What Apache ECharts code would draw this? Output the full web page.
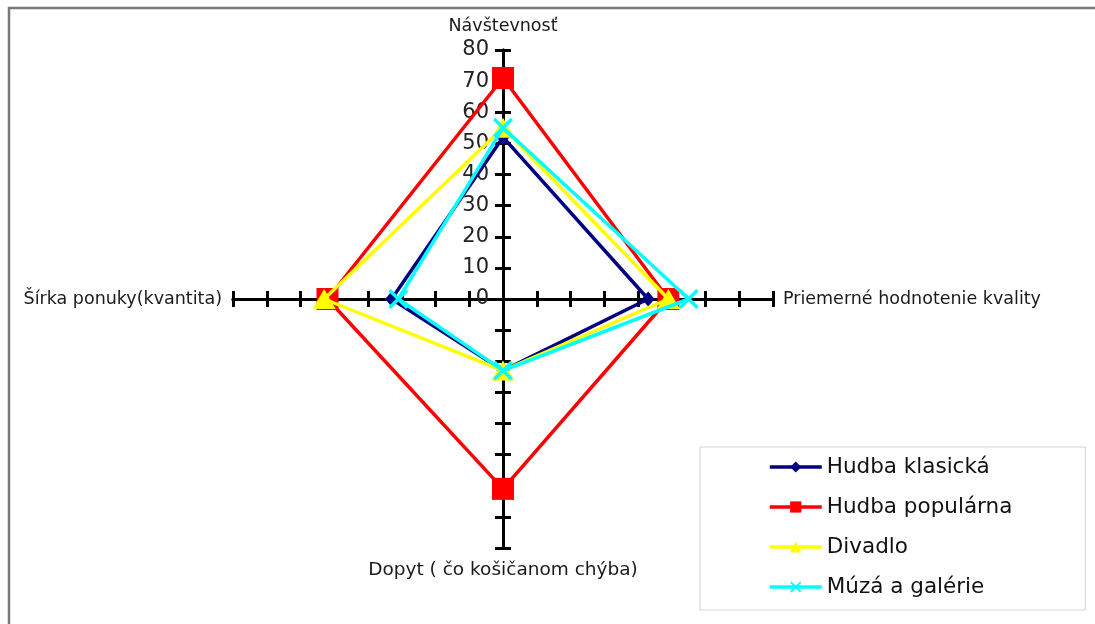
<!DOCTYPE html>
<html><head><meta charset="utf-8">
<script src="https://cdn.jsdelivr.net/npm/echarts@6.0.0/dist/echarts.min.js"></script>
<style>html,body{margin:0;padding:0;background:#fff}#c{width:1095px;height:624px}</style>
</head><body><div id="c"></div>
<script>
// Radar categories (clockwise from top)
const categories = ['Návštevnosť', 'Priemerné hodnotenie kvality', 'Dopyt ( čo košičanom chýba)', 'Šírka ponuky(kvantita)'];
const seriesNames = ['Hudba klasická', 'Hudba populárna', 'Divadlo', 'Múzá a galérie'];
const hudbaKlasicka = [52, 43, 23, 33];
const hudbaPopularna = [71, 49, 61, 52];
const divadlo = [55, 49, 23, 53];
const muzaGalerie = [55, 55, 23, 31];
const tickLabels = [0, 10, 20, 30, 40, 50, 60, 70, 80];

const FONT = 'DejaVu Sans';
const maxV = tickLabels[tickLabels.length - 1];
const step = tickLabels[1] - tickLabels[0];

const GRID = { left: 233, right: 322, top: 50, bottom: 76 };
const halfW = (1095 - GRID.left - GRID.right) / 2;

// four radar spokes: up, right, down, left
const dirs = [[0, 1], [1, 0], [0, -1], [-1, 0]];
function toPoints(vals) {
  const pts = vals.map((v, i) => ({ value: [dirs[i][0] * v, dirs[i][1] * v], name: categories[i] }));
  pts.push({ value: pts[0].value.slice(), symbol: 'none' });
  return pts;
}

const xShape = 'path://M0,1.2L1.2,0L5,3.8L8.8,0L10,1.2L6.2,5L10,8.8L8.8,10L5,6.2L1.2,10L0,8.8L3.8,5Z';
const styles = [
  { color: '#000080', symbol: 'diamond', size: [13, 15] },
  { color: '#FF0000', symbol: 'rect', size: 22 },
  { color: '#FFFF00', symbol: 'triangle', size: [23, 20] },
  { color: '#00FFFF', symbol: xShape, size: 20 }
];
const allData = [hudbaKlasicka, hudbaPopularna, divadlo, muzaGalerie];

const axisLine = { onZero: true, lineStyle: { color: '#000', width: 3 } };
const axisTick = { show: true, length: 8, lineStyle: { color: '#000', width: 3 } };
const nameStyle = { fontFamily: FONT, fontSize: 17.5, color: '#1a1a1a' };
const common = { type: 'value', min: -maxV, max: maxV, interval: step, splitLine: { show: false } };

const chart = echarts.init(document.getElementById('c'));
chart.setOption({
  animation: false,
  backgroundColor: '#fff',
  grid: Object.assign({ containLabel: false, outerBoundsMode: 'none' }, GRID),
  xAxis: [
    Object.assign({}, common, { position: 'bottom', axisLine: axisLine, axisTick: axisTick, axisLabel: { show: false },
      name: categories[1], nameLocation: 'end', nameGap: 10, nameTextStyle: nameStyle }),
    Object.assign({}, common, { position: 'top', axisLine: Object.assign({ onZeroAxisIndex: 0 }, axisLine), axisTick: axisTick, axisLabel: { show: false },
      name: categories[3], nameLocation: 'start', nameGap: 11, nameTextStyle: nameStyle })
  ],
  yAxis: [
    Object.assign({}, common, { position: 'left', axisLine: axisLine, axisTick: axisTick,
      axisLabel: { show: true, margin: 14 - halfW, fontFamily: FONT, fontSize: 21, color: '#222',
        formatter: v => (v >= 0 ? String(v) : '') },
      name: categories[0], nameLocation: 'end', nameGap: 15, nameTextStyle: nameStyle }),
    Object.assign({}, common, { position: 'right', axisLine: Object.assign({ onZeroAxisIndex: 0 }, axisLine), axisTick: axisTick, axisLabel: { show: false },
      name: categories[2], nameLocation: 'start', nameGap: 13, nameTextStyle: Object.assign({}, nameStyle, { fontSize: 18.5 }) })
  ],
  legend: {
    orient: 'vertical', left: 700, top: 447,
    padding: [9, 73, 12, 68], itemGap: 18, itemWidth: 52, itemHeight: 14,
    borderColor: '#d4d4d4', borderWidth: 1,
    lineStyle: { width: 3.5 },
    textStyle: { fontFamily: FONT, fontSize: 21.5, color: '#111' },
    data: seriesNames
  },
  graphic: [{
    type: 'rect', shape: { x: 9, y: 8, width: 1200, height: 800 },
    style: { fill: 'none', stroke: '#7a7a7a', lineWidth: 2.5 }, silent: true
  }],
  series: allData.map((vals, i) => ({
    type: 'line', name: seriesNames[i], xAxisIndex: 0, yAxisIndex: 0,
    data: toPoints(vals),
    symbol: styles[i].symbol, symbolSize: styles[i].size, showAllSymbol: true,
    lineStyle: { color: styles[i].color, width: 3.5 },
    itemStyle: { color: styles[i].color, borderWidth: 0 },
    z: 3 + i, clip: false
  }))
});
</script></body></html>
